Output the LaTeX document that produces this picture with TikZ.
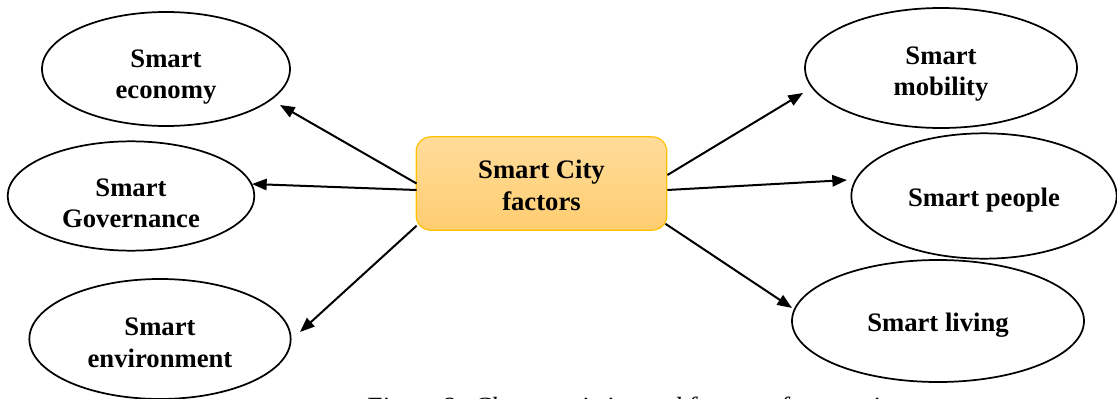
\documentclass[tikz,border=0pt]{standalone}
\usepackage{fontspec}
\setmainfont{Liberation Serif}
\usepackage{xcolor}
\usetikzlibrary{shapes.geometric, arrows.meta, positioning, calc}
\definecolor{hubtop}{RGB}{255,220,155}
\definecolor{hubbottom}{RGB}{255,205,112}
\definecolor{hubedge}{RGB}{255,192,0}

\begin{document}
\begin{tikzpicture}[x=0.75pt, y=-0.75pt, align=center, font=\fontsize{20}{23.5}\selectfont\bfseries]
    % Define styles
    \tikzstyle{hubbox} = [rectangle, rounded corners=11pt, minimum width=188pt, minimum height=70pt, text centered, draw=hubedge, line width=0.9pt, top color=hubtop, bottom color=hubbottom]
    \tikzstyle{factor} = [ellipse, inner sep=0pt, text centered, draw=black, line width=1.3pt, text depth=0pt]
    \tikzstyle{arrow} = [line width=1.5pt, -{Triangle[length=11pt, width=8.5pt]}]

    \useasboundingbox (0,0) rectangle (1117,399);

    % Nodes
    \node (hub) [hubbox, text height=40pt, text depth=0pt] at (541.5,183.5) {Smart City\\factors};
    \node (econ) [factor, minimum width=186pt, minimum height=85.5pt, text height=45pt] at (166,69) {Smart\\economy};
    \node (gov) [factor, minimum width=185pt, minimum height=82pt, text height=48pt] at (131,196) {Smart\\Governance};
    \node (env) [factor, minimum width=196pt, minimum height=90pt, text height=42pt] at (160,339) {Smart\\environment};
    \node (mob) [factor, minimum width=204pt, minimum height=90pt, text height=42pt] at (941,68) {Smart\\mobility};
    \node (people) [factor, minimum width=199pt, minimum height=94pt, text height=15pt] at (984,196) {Smart people};
    \node (living) [factor, minimum width=219pt, minimum height=91.5pt, text height=15pt] at (938,321) {Smart living};
    \node (caption) [anchor=base west, inner sep=0pt, font=\fontsize{19.7}{24}\selectfont\itshape] at (365,415.5) {Figure 2: Characteristics and factors of smart city};

    % Arrow ends
    \coordinate (tEcon) at (280,105);
    \coordinate (tGov) at (252,184);
    \coordinate (tEnv) at (300,332);
    \coordinate (tMob) at (803,93);
    \coordinate (tPeople) at (847,180);
    \coordinate (tLiving) at (792,308);

    % Arrows
    \draw [arrow] ($(hub.west)+(1,0)$) -- (tEcon);
    \draw [arrow] ($(hub.west)+(1,6.5)$) -- (tGov);
    \draw [arrow] ($(hub.south west)+(1,-5)$) -- (tEnv);
    \draw [arrow] ($(hub.east)+(0,-8.5)$) -- (tMob);
    \draw [arrow] ($(hub.east)+(0,6.5)$) -- (tPeople);
    \draw [arrow] ($(hub.south east)+(-2,-7)$) -- (tLiving);
\end{tikzpicture}
\end{document}
